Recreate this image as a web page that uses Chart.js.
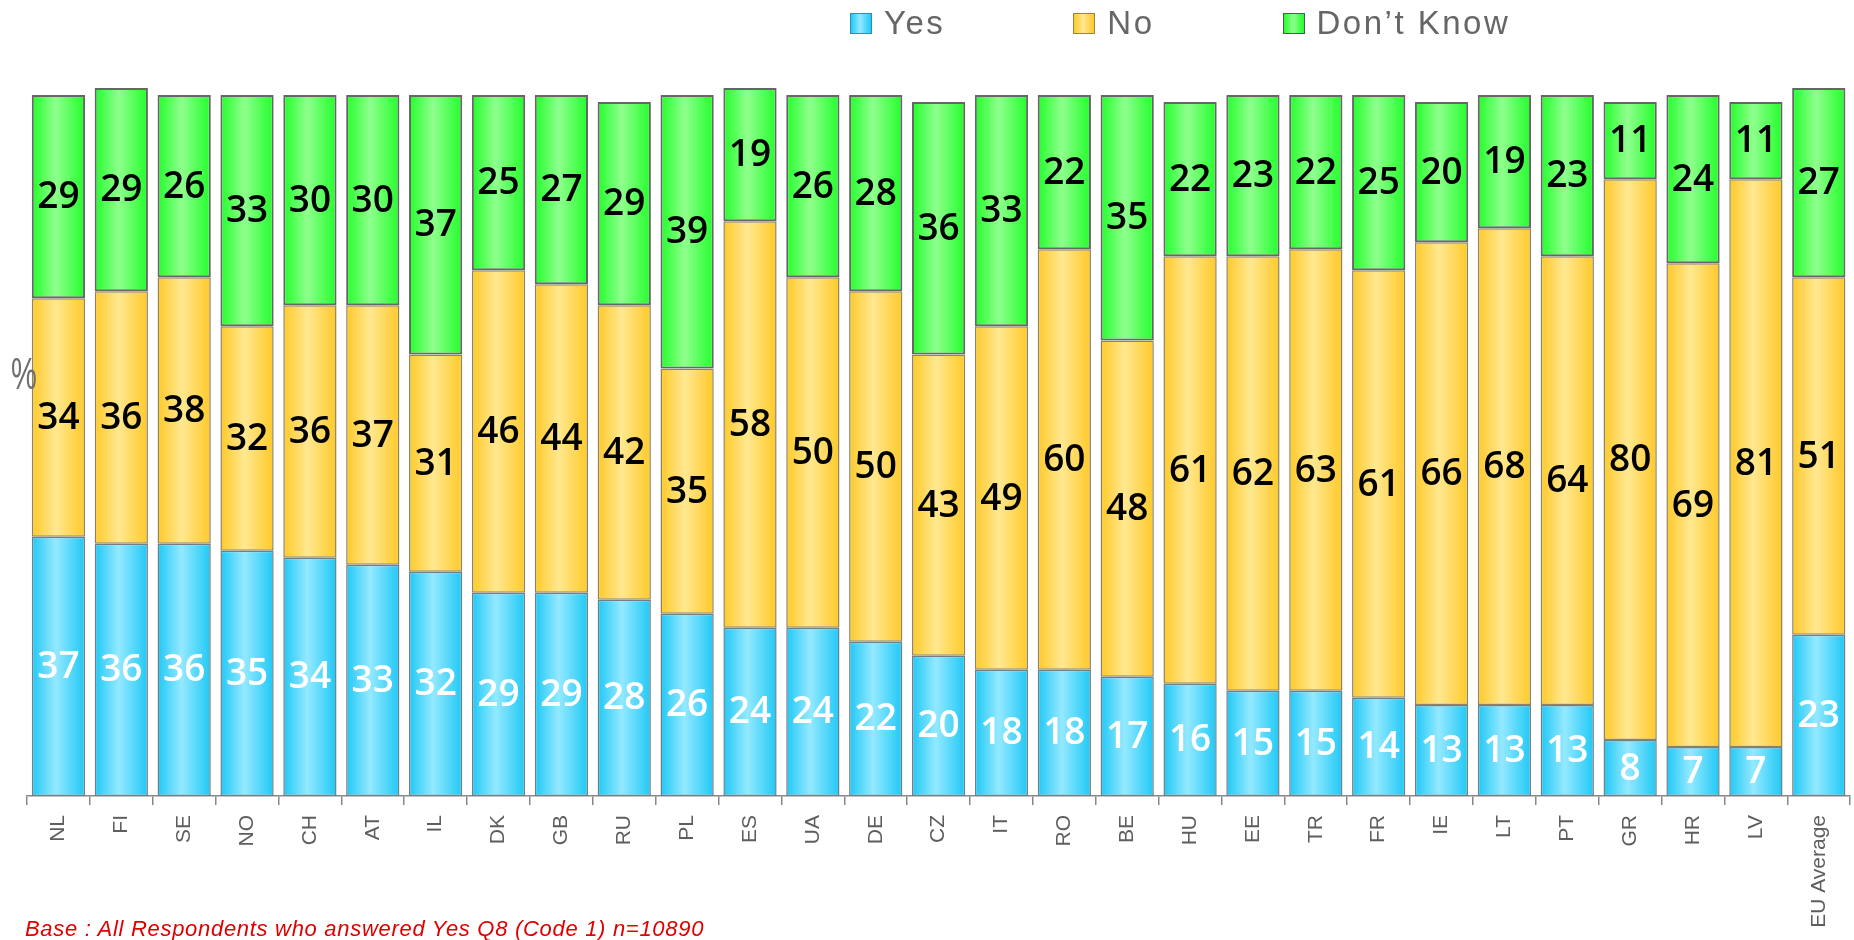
<!DOCTYPE html>
<html>
<head>
<meta charset="utf-8">
<script src="https://cdn.jsdelivr.net/npm/chart.js@4.4.1/dist/chart.umd.min.js"></script>
<style>
    body { margin: 0; background: #fff; }
    #wrap { position: relative; width: 1854px; height: 940px; }
    #legend {
        position: absolute; left: 850px; top: 6px; display: flex;
        font-family: 'Liberation Sans Narrow', 'Liberation Sans', sans-serif;
        font-size: 33px; line-height: 34px; color: #666; letter-spacing: 2.5px;
    }
    #legend .item { display: flex; align-items: center; margin-right: 128px; }
    #legend .box { width: 20px; height: 19px; margin-right: 12px; border: 1.5px solid #555; }
    #base {
        position: absolute; left: 25px; top: 916px; white-space: nowrap;
        font: italic 22px 'Liberation Sans Narrow', 'Liberation Sans', sans-serif;
        color: #e00000; letter-spacing: 0.7px;
    }
</style>
</head>
<body>
<div id="wrap">
    <canvas id="chart"></canvas>
    <div id="legend"></div>
    <div id="base">Base : All Respondents who answered Yes Q8 (Code 1) n=10890</div>
</div>
<script>
    // chart data
    const categories = ['NL', 'FI', 'SE', 'NO', 'CH', 'AT', 'IL', 'DK', 'GB', 'RU', 'PL', 'ES', 'UA', 'DE', 'CZ',
        'IT', 'RO', 'BE', 'HU', 'EE', 'TR', 'FR', 'IE', 'LT', 'PT', 'GR', 'HR', 'LV', 'EU Average'];
    const seriesNames = ['Yes', 'No', 'Don\u2019t Know'];
    const yesValues = [37, 36, 36, 35, 34, 33, 32, 29, 29, 28, 26, 24, 24, 22, 20, 18, 18, 17, 16, 15, 15, 14, 13, 13, 13, 8, 7, 7, 23];
    const noValues = [34, 36, 38, 32, 36, 37, 31, 46, 44, 42, 35, 58, 50, 50, 43, 49, 60, 48, 61, 62, 63, 61, 66, 68, 64, 80, 69, 81, 51];
    const dontKnowValues = [29, 29, 26, 33, 30, 30, 37, 25, 27, 29, 39, 19, 26, 28, 36, 33, 22, 35, 22, 23, 22, 25, 20, 19, 23, 11, 24, 11, 27];

    const BAR_FRACTION = 0.847;

    // dark edge / light centre for each series
    const palette = [
        { dark: '#1fc8f6', light: '#94e9ff', border: '#6f7f86', label: '#ffffff', boxBorder: '#2f8fae' },
        { dark: '#ffc928', light: '#ffe891', border: '#8c8466', label: '#000000', boxBorder: '#9a8440' },
        { dark: '#22ff2a', light: '#90ff8e', border: '#666666', label: '#000000', boxBorder: '#555555' }
    ];

    function barFill(dark, light) {
        return function (context) {
            const chart = context.chart;
            const xScale = chart.scales.x;
            if (!xScale || context.dataIndex === undefined) return dark;
            const cx = xScale.getPixelForValue(context.dataIndex);
            const w = (xScale.width / categories.length) * BAR_FRACTION;
            if (!isFinite(cx) || !isFinite(w) || w <= 0) return dark;
            const g = chart.ctx.createLinearGradient(cx - w / 2, 0, cx + w / 2, 0);
            g.addColorStop(0, dark);
            g.addColorStop(0.45, light);
            g.addColorStop(1, dark);
            return g;
        };
    }

    // value labels in the middle of every segment
    const segmentLabels = {
        id: 'segmentLabels',
        afterDatasetsDraw(chart) {
            const ctx = chart.ctx;
            ctx.save();
            ctx.font = '600 37px "Open Sans", "DejaVu Sans", sans-serif';
            ctx.textAlign = 'center';
            ctx.textBaseline = 'middle';
            chart.data.datasets.forEach((ds, di) => {
                const meta = chart.getDatasetMeta(di);
                ctx.fillStyle = palette[di].label;
                meta.data.forEach((bar, i) => {
                    ctx.fillText(String(ds.data[i]), bar.x, (bar.y + bar.base) / 2 + 1);
                });
            });
            // y axis unit, drawn narrow like the original
            ctx.font = '44px "Liberation Sans", sans-serif';
            ctx.fillStyle = '#6e6e6e';
            ctx.textAlign = 'left';
            ctx.textBaseline = 'alphabetic';
            ctx.translate(11, 389);
            ctx.scale(0.66, 1);
            ctx.fillText('%', 0, 0);
            ctx.restore();
        }
    };

    const datasets = [yesValues, noValues, dontKnowValues].map((values, i) => ({
        label: seriesNames[i],
        data: values,
        backgroundColor: barFill(palette[i].dark, palette[i].light),
        borderColor: palette[i].border,
        borderWidth: i === 2 ? 2 : 1.5,
        borderSkipped: false,
        barPercentage: BAR_FRACTION,
        categoryPercentage: 1
    }));

    // html legend
    const legendEl = document.getElementById('legend');
    seriesNames.forEach((name, i) => {
        const item = document.createElement('div');
        item.className = 'item';
        const box = document.createElement('span');
        box.className = 'box';
        box.style.background = 'linear-gradient(to right, ' + palette[i].dark + ', ' + palette[i].light + ' 45%, ' + palette[i].dark + ')';
        box.style.borderColor = palette[i].boxBorder;
        const text = document.createElement('span');
        text.textContent = name;
        item.appendChild(box);
        item.appendChild(text);
        legendEl.appendChild(item);
    });

    const chart = new Chart(document.getElementById('chart'), {
        type: 'bar',
        data: { labels: categories, datasets: datasets },
        options: {
            responsive: true,
            maintainAspectRatio: false,
            animation: false,
            layout: { padding: { left: 27, right: 2, top: 60, bottom: 0 } },
            plugins: {
                legend: { display: false },
                tooltip: { enabled: false }
            },
            scales: {
                x: {
                    stacked: true,
                    border: { color: '#888', width: 1.5 },
                    grid: { drawOnChartArea: false, color: '#888', lineWidth: 1.5, tickLength: 9 },
                    ticks: {
                        color: '#5e5e5e',
                        font: { family: '"Liberation Sans", Arial, sans-serif', size: 21 },
                        minRotation: 90,
                        maxRotation: 90,
                        padding: 10,
                        autoSkip: false
                    },
                    afterFit: function (axis) {
                        axis.height = 144;
                    }
                },
                y: {
                    stacked: true,
                    display: false,
                    min: 0,
                    max: 105
                }
            }
        },
        plugins: [segmentLabels]
    });
</script>
</body>
</html>
